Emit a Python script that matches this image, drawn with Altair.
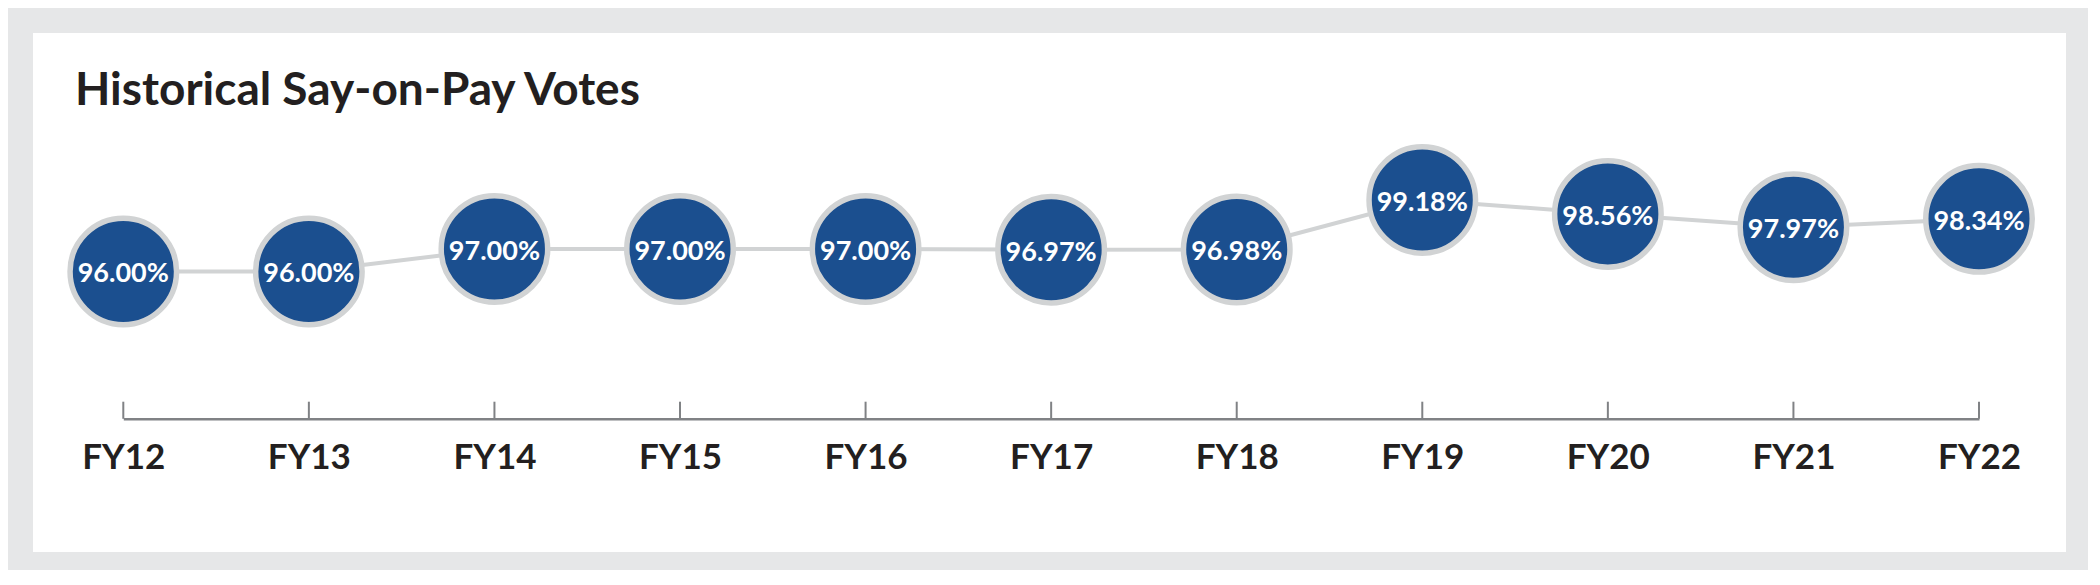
import altair as alt
import pandas as pd

years = ["FY12", "FY13", "FY14", "FY15", "FY16", "FY17", "FY18", "FY19", "FY20", "FY21", "FY22"]
votes = [96.00, 96.00, 97.00, 97.00, 97.00, 96.97, 96.98, 99.18, 98.56, 97.97, 98.34]
title_text = "Historical Say-on-Pay Votes"

df = pd.DataFrame({"year": years, "vote": votes})

FONT = "Lato"
BLUE = "#1b4f8f"
RING = "#d1d3d4"
AXIS_GRAY = "#808285"
INK = "#231f20"

W = 1855.7
H = 280

x_enc = alt.X(
    "year:N",
    sort=years,
    scale=alt.Scale(type="point", padding=0),
    axis=alt.Axis(
        title=None,
        domainColor=AXIS_GRAY,
        domainWidth=2.6,
        ticks=False,
        tickSize=0,
        grid=False,
        labelAngle=0,
        labelFont=FONT,
        labelFontSize=35,
        labelFontWeight="bold",
        labelColor=INK,
        labelPadding=50,
        labelBaseline="alphabetic",
        zindex=1,
    ),
)
y_enc = alt.Y("vote:Q", scale=alt.Scale(domain=[89.45, 101.9], nice=False, zero=False), axis=None)

base = alt.Chart(df)

panel = alt.Chart(alt.Data(values=[{}])).mark_rect(color="white").encode(
    x=alt.value(-90.3), x2=alt.value(1942.7), y=alt.value(-105.8), y2=alt.value(413.2)
)

line = base.mark_line(color=RING, strokeWidth=4).encode(x=x_enc, y=y_enc)

ticks = base.mark_rule(color=AXIS_GRAY, strokeWidth=2).encode(
    x=alt.X("year:N", sort=years), y=alt.value(262.9), y2=alt.value(H)
)

circles = base.mark_point(
    shape="circle", filled=True, fill=BLUE, stroke=RING, strokeWidth=5.5, opacity=1, size=11340
).encode(x=alt.X("year:N", sort=years), y=alt.Y("vote:Q"))

labels = base.transform_calculate(
    lab="format(datum.vote, '.2f') + '%'"
).mark_text(
    font=FONT, fontSize=27, fontWeight="bold", color="white", baseline="alphabetic", dy=11, align="center"
).encode(x=alt.X("year:N", sort=years), y=alt.Y("vote:Q"), text="lab:N")

title = alt.Chart(alt.Data(values=[{"t": title_text}])).mark_text(
    font=FONT, fontSize=46, fontWeight="bold", color=INK, align="left", baseline="alphabetic"
).encode(x=alt.value(-48.3), y=alt.value(-33.5), text="t:N")

chart = alt.layer(panel, line, ticks, circles, labels, title).properties(
    width=W,
    height=H,
    autosize=alt.AutoSizeParams(type="none"),
    padding={"left": 115.3, "top": 130.8, "right": 109, "bottom": 151.2},
).configure(background="#e6e7e8").configure_view(strokeWidth=0)

chart.save("out.html", embed_options={"renderer": "svg", "actions": False})
